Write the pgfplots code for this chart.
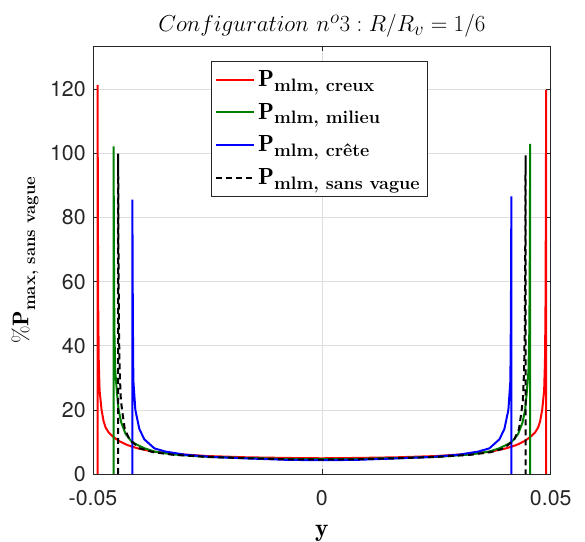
\documentclass[border=0pt]{standalone}
\usepackage{fontspec}
\usepackage{amsmath}
\usepackage{pgfplots}
\pgfplotsset{compat=1.18}
\newfontfamily\helv{TeX Gyre Heros}
\definecolor{mgreen}{rgb}{0,0.5,0}
\definecolor{axgray}{rgb}{0.15,0.15,0.15}
\newcommand{\legsub}[1]{\text{\fontsize{13.5}{16}\selectfont\bfseries #1}}
\begin{document}
\begin{tikzpicture}
\begin{axis}[
  name=ax,
  scale only axis,
  width=343.3pt, height=321pt,
  xmin=-0.05, xmax=0.05,
  ymin=0, ymax=133.5,
  scaled x ticks=false,
  xtick={-0.05,0,0.05}, xticklabels={-0.05,0,0.05},
  ytick={0,20,40,60,80,100,120},
  yticklabels={0,20,40,60,80,100,120},
  grid=major,
  major grid style={draw=black!13, line width=0.4pt},
  axis line style={draw=axgray, line width=0.5pt},
  tick style={draw=axgray, line width=0.5pt},
  tick align=inside,
  major tick length=3.5pt,
  ticklabel style={font=\helv\fontsize{16}{18}\selectfont, text=axgray},
  xticklabel style={yshift=-8.5pt},
  yticklabel style={xshift=-2pt},
  title={$Configuration\ n^o3 : R/R_v = 1/6$},
  title style={font=\fontsize{19}{22}\selectfont, anchor=base, at={(axis description cs:0.5,1)}, yshift=4.7pt},
  xlabel={$\mathbf{y}$},
  xlabel style={font=\fontsize{19}{22}\selectfont, anchor=base, at={(axis description cs:0.5,0)}, yshift=-47pt},
  ylabel={$\%\mathbf{P}_{\raisebox{-2.5pt}{\fontsize{12.6}{15}\selectfont\bfseries max, sans vague}}$},
  ylabel style={font=\fontsize{17}{20}\selectfont, anchor=center, at={(axis description cs:-0.1485,0.5)}},
  legend style={at={(axis description cs:0.258,0.965)}, anchor=north west,
    draw=axgray, line width=0.5pt, fill=white, font=\fontsize{17.5}{21}\selectfont,
    cells={anchor=west}, inner xsep=3pt, inner ysep=5pt, row sep=7pt},
  legend image code/.code={\draw[#1] (0pt,0pt) -- (28.5pt,0pt);},
]
\addplot[red, line width=1.5pt] coordinates {
(-0.0490,0) (-0.0490,121.4) (-0.04893,80) (-0.04885,50) (-0.04874,35) (-0.04856,26)
(-0.04813,20) (-0.04769,16.5) (-0.04725,14.5) (-0.04660,13) (-0.04551,11.5)
(-0.04420,10.2) (-0.04245,9) (-0.04027,8) (-0.0370,7) (-0.0315,6.2) (-0.0250,5.6)
(-0.0163,5.2) (-0.0075,5.0) (0,4.9) (0.0075,5.0) (0.0163,5.2) (0.0250,5.6) (0.0315,6.2)
(0.0370,7) (0.04027,8) (0.04245,9) (0.04420,10.2) (0.04551,11.5) (0.04660,13)
(0.04725,14.5) (0.04769,16.5) (0.04813,20) (0.04856,26) (0.04874,35) (0.04885,50)
(0.04893,80) (0.0490,119.8) (0.0490,0)
};
\addlegendentry{$\mathbf{P}_{\legsub{mlm, creux}}$}
\addplot[mgreen, line width=1.5pt] coordinates {
(-0.0455,0) (-0.0455,102.2) (-0.04543,70) (-0.04533,45) (-0.04513,32) (-0.04474,25)
(-0.04441,20) (-0.04382,16) (-0.04288,12.5) (-0.04179,10.5) (-0.04091,9.5)
(-0.03873,8) (-0.03655,7) (-0.0326,6.1) (-0.0258,5.4) (-0.0171,5.0) (-0.0080,4.7)
(0,4.6) (0.0080,4.7) (0.0171,5.0) (0.0258,5.4) (0.0326,6.1) (0.03655,7) (0.03873,8)
(0.04091,9.5) (0.04179,10.5) (0.04288,12.5) (0.04382,16) (0.04441,20) (0.04474,25)
(0.04513,32) (0.04533,45) (0.04543,70) (0.0455,103.0) (0.0455,0)
};
\addlegendentry{$\mathbf{P}_{\legsub{mlm, milieu}}$}
\addplot[blue, line width=1.5pt] coordinates {
(-0.0414,0) (-0.0414,85.6) (-0.04133,60) (-0.04125,40) (-0.04118,29) (-0.04075,20)
(-0.03987,14) (-0.03878,10.8) (-0.03660,8) (-0.03420,7) (-0.0298,6) (-0.0239,5.3)
(-0.0152,4.8) (-0.0075,4.4) (0,4.3) (0.0075,4.4) (0.0152,4.8) (0.0239,5.3) (0.0298,6)
(0.03420,7) (0.03660,8) (0.03878,10.8) (0.03987,14) (0.04075,20) (0.04118,29)
(0.04125,40) (0.04133,60) (0.0414,86.6) (0.0414,0)
};
\addlegendentry{$\mathbf{P}_{\legsub{mlm, crête}}$}
\addplot[black, line width=1.5pt, dash pattern=on 4.5pt off 3pt] coordinates {
(-0.0445,0) (-0.0445,99.9) (-0.04443,70) (-0.04433,45) (-0.04417,32) (-0.04391,23)
(-0.04356,19) (-0.04306,14) (-0.04197,10.6) (-0.03978,8) (-0.03686,6.8) (-0.0325,6.0)
(-0.0248,5.3) (-0.0161,4.9) (-0.0080,4.6) (0,4.5) (0.0080,4.6) (0.0161,4.9) (0.0248,5.3)
(0.0325,6.0) (0.03686,6.8) (0.03978,8) (0.04197,10.6) (0.04306,14) (0.04356,19)
(0.04391,23) (0.04417,32) (0.04433,45) (0.04443,70) (0.0445,99.4) (0.0445,0)
};
\addlegendentry{$\mathbf{P}_{\legsub{mlm, sans vague}}$}
\end{axis}
\pgfresetboundingbox
\path ([shift={(-69.75pt,-50.6pt)}]ax.south west) rectangle ([shift={(25.7pt,34.5pt)}]ax.north east);
\end{tikzpicture}
\end{document}
